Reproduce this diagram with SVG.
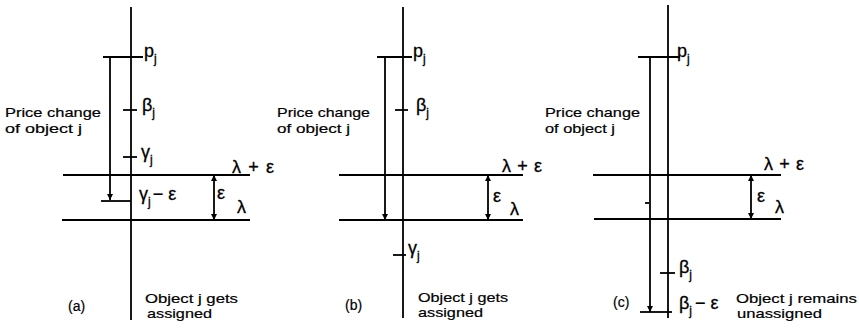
<svg xmlns="http://www.w3.org/2000/svg" width="859" height="328" viewBox="0 0 859 328">
<style>
.l{stroke:#000;stroke-width:1.8;fill:none}
.t{font-family:"Liberation Sans",Arial,sans-serif;font-size:13.5px;fill:#000;stroke:#000;stroke-width:0.2}
.m{font-family:"Liberation Sans",Arial,sans-serif;font-size:18px;fill:#000;stroke:#000;stroke-width:0.3}
.s{font-size:12px}
</style>
<defs>
<marker id="ah" viewBox="0 0 10 10" refX="10" refY="5" markerWidth="6" markerHeight="10" markerUnits="userSpaceOnUse" orient="auto-start-reverse">
<path d="M0,0 L10,5 L0,10 Z" fill="#000"/>
</marker>
</defs>
<rect width="859" height="328" fill="#fff"/>

<g id="panel-a">
<line class="l" x1="131" y1="7" x2="131" y2="320"/>
<line class="l" x1="103" y1="57" x2="143" y2="57"/>
<line class="l" x1="123" y1="110" x2="137" y2="110"/>
<line class="l" x1="123" y1="157" x2="137" y2="157"/>
<line class="l" x1="63" y1="175" x2="250" y2="175"/>
<line class="l" x1="62" y1="220" x2="250" y2="220"/>
<line class="l" x1="101" y1="201" x2="131" y2="201"/>
<text class="m" x="144" y="57">p<tspan class="s" dy="6">j</tspan></text>
<text class="m" x="142" y="111">β<tspan class="s" dy="6">j</tspan></text>
<text class="m" x="141" y="158">γ<tspan class="s" dy="6">j</tspan></text>
<text class="m" x="139" y="200">γ<tspan class="s" dy="6">j</tspan><tspan dy="-6" dx="2">− ε</tspan></text>
<text class="m" x="232" y="173" textLength="42">λ + ε</text>
<text class="m" x="217" y="199">ε</text>
<text class="m" x="237" y="213">λ</text>
<text class="t" x="5" y="117" textLength="96" lengthAdjust="spacingAndGlyphs">Price change</text>
<text class="t" x="5" y="133" textLength="77" lengthAdjust="spacingAndGlyphs">of object j</text>
<text class="t" x="68" y="311" style="font-size:14px">(a)</text>
<text class="t" x="145" y="303" textLength="93" lengthAdjust="spacingAndGlyphs">Object j gets</text>
<text class="t" x="147" y="318" textLength="65" lengthAdjust="spacingAndGlyphs">assigned</text>
</g>

<g id="panel-b">
<line class="l" x1="403" y1="7" x2="403" y2="318"/>
<line class="l" x1="377" y1="57" x2="412" y2="57"/>
<line class="l" x1="395" y1="110" x2="408" y2="110"/>
<line class="l" x1="393" y1="255" x2="406" y2="255"/>
<line class="l" x1="339" y1="175" x2="523" y2="175"/>
<line class="l" x1="339" y1="220" x2="523" y2="220"/>
<text class="m" x="413" y="57">p<tspan class="s" dy="6">j</tspan></text>
<text class="m" x="416" y="111">β<tspan class="s" dy="6">j</tspan></text>
<text class="m" x="408" y="254">γ<tspan class="s" dy="6">j</tspan></text>
<text class="m" x="502" y="172" textLength="40">λ + ε</text>
<text class="m" x="493" y="202">ε</text>
<text class="m" x="510" y="215">λ</text>
<text class="t" x="277" y="117" textLength="93" lengthAdjust="spacingAndGlyphs">Price change</text>
<text class="t" x="277" y="133" textLength="73" lengthAdjust="spacingAndGlyphs">of object j</text>
<text class="t" x="345" y="310" style="font-size:14px">(b)</text>
<text class="t" x="418" y="302" textLength="90" lengthAdjust="spacingAndGlyphs">Object j gets</text>
<text class="t" x="418" y="317" textLength="65" lengthAdjust="spacingAndGlyphs">assigned</text>
</g>

<g id="panel-c">
<line class="l" x1="668" y1="5" x2="668" y2="318"/>
<line class="l" x1="638" y1="57" x2="680" y2="57"/>
<line class="l" x1="660" y1="273" x2="675" y2="273"/>
<line class="l" x1="640" y1="312" x2="672" y2="312"/>
<line class="l" x1="593" y1="175" x2="781" y2="175"/>
<line class="l" x1="594" y1="219" x2="781" y2="219"/>
<line class="l" x1="645" y1="203" x2="649" y2="203"/>
<text class="m" x="677" y="57">p<tspan class="s" dy="6">j</tspan></text>
<text class="m" x="679" y="273">β<tspan class="s" dy="6">j</tspan></text>
<text class="m" x="679" y="309">β<tspan class="s" dy="6">j</tspan><tspan dy="-6" dx="3">− ε</tspan></text>
<text class="m" x="764" y="170" textLength="40">λ + ε</text>
<text class="m" x="757" y="202">ε</text>
<text class="m" x="775" y="213">λ</text>
<text class="t" x="545" y="117" textLength="95" lengthAdjust="spacingAndGlyphs">Price change</text>
<text class="t" x="545" y="133" textLength="70" lengthAdjust="spacingAndGlyphs">of object j</text>
<text class="t" x="613" y="307" style="font-size:14px">(c)</text>
<text class="t" x="736" y="303" textLength="121" lengthAdjust="spacingAndGlyphs">Object j remains</text>
<text class="t" x="737" y="318" textLength="85" lengthAdjust="spacingAndGlyphs">unassigned</text>
</g>

<g id="connectors">
<line class="l" x1="110" y1="57" x2="110" y2="200" marker-end="url(#ah)"/>
<line class="l" x1="214" y1="175" x2="214" y2="220" marker-start="url(#ah)" marker-end="url(#ah)"/>
<line class="l" x1="385" y1="57" x2="385" y2="220" marker-end="url(#ah)"/>
<line class="l" x1="488" y1="175" x2="488" y2="220" marker-start="url(#ah)" marker-end="url(#ah)"/>
<line class="l" x1="650" y1="57" x2="650" y2="312" marker-end="url(#ah)"/>
<line class="l" x1="751" y1="175" x2="751" y2="219" marker-start="url(#ah)" marker-end="url(#ah)"/>
</g>
</svg>
